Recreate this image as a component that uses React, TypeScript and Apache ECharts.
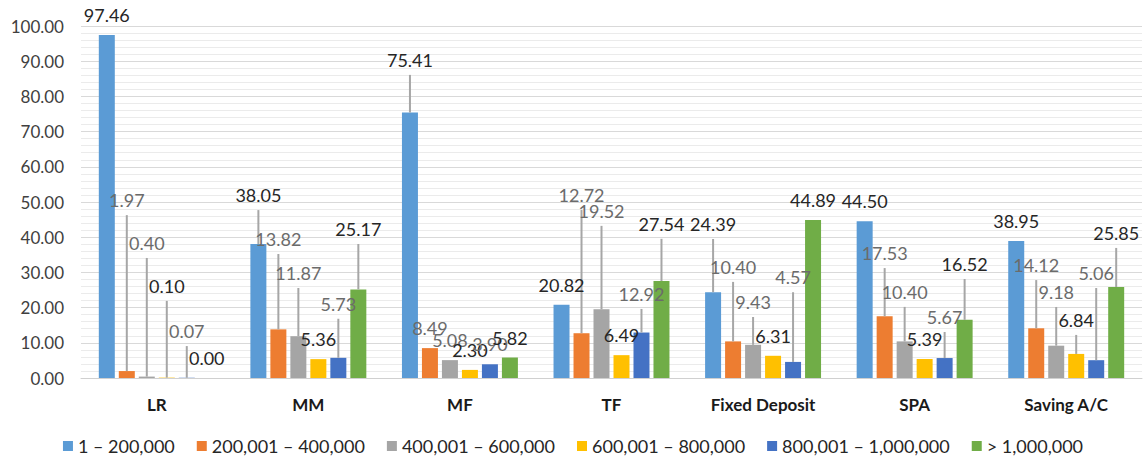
import React, { useEffect, useRef } from "react";
import * as echarts from "echarts";

const categories = ["LR", "MM", "MF", "TF", "Fixed Deposit", "SPA", "Saving A/C"];
const seriesNames = [
  "1 – 200,000",
  "200,001 – 400,000",
  "400,001 – 600,000",
  "600,001 – 800,000",
  "800,001 – 1,000,000",
  "> 1,000,000",
];
const seriesColors = ["#5B9BD5", "#ED7D31", "#A5A5A5", "#FFC000", "#4472C4", "#70AD47"];
const labelColors = ["#262626", "#6b6b6b", "#6b6b6b", "#262626", "#6b6b6b", "#262626"];

// Mean share per income band, one array per band, ordered as the categories
const band1 = [97.46, 38.05, 75.41, 20.82, 24.39, 44.5, 38.95];
const band2 = [1.97, 13.82, 8.49, 12.72, 10.4, 17.53, 14.12];
const band3 = [0.4, 11.87, 5.08, 19.52, 9.43, 10.4, 9.18];
const band4 = [0.1, 5.36, 2.3, 6.49, 6.31, 5.39, 6.84];
const band5 = [0.07, 5.73, 3.9, 12.92, 4.57, 5.67, 5.06];
const band6 = [0.0, 25.17, 5.82, 27.54, 44.89, 16.52, 25.85];

// Upper error amounts (0 = no error bar drawn)
const err1 = [0, 9.65, 10.7, 0, 15.1, 0, 0];
const err2 = [44.3, 21.4, 0, 35.0, 16.9, 13.7, 13.7];
const err3 = [33.7, 13.7, 0, 23.7, 7.9, 9.8, 11.0];
const err4 = [21.8, 0, 0, 0, 0, 0, 5.4];
const err5 = [9.0, 11.1, 0, 6.7, 19.8, 7.4, 20.5];
const err6 = [0, 12.9, 0, 12.0, 0, 11.6, 11.1];

const yTicks = { min: 0, max: 100, interval: 10 };

const values = [band1, band2, band3, band4, band5, band6];
const errors = [err1, err2, err3, err4, err5, err6];

const BAR_GAP = 0.25;
const CAT_GAP = 0.235;
const FONT = "Lato";

function barX(api: any, cat: number, s: number, val: number) {
  const base = api.coord([cat, val]);
  const band = api.size([1, 0])[0];
  const n = values.length;
  const bw = (band * (1 - CAT_GAP)) / (n + (n - 1) * BAR_GAP);
  return { x: base[0] + (s - (n - 1) / 2) * bw * (1 + BAR_GAP), y: base[1] };
}

export default function App() {
  const ref = useRef<HTMLDivElement>(null);

  useEffect(() => {
    if (!ref.current) return;
    const chart = echarts.init(ref.current, undefined, { renderer: "svg" });

    const points: number[][] = [];
    values.forEach((arr, s) =>
      arr.forEach((v, c) => points.push([c, s, v, errors[s][c]]))
    );

    const barSeries = values.map((arr, s) => ({
      name: seriesNames[s],
      type: "bar",
      data: arr,
      itemStyle: { color: seriesColors[s] },
      barGap: `${BAR_GAP * 100}%`,
      barCategoryGap: `${CAT_GAP * 100}%`,
      z: 2,
    }));

    const errorSeries = {
      type: "custom",
      name: "errors",
      data: points,
      encode: { x: 0, y: 2 },
      z: 3,
      silent: true,
      renderItem: (_p: any, api: any) => {
        const cat = api.value(0);
        const s = api.value(1);
        const v = api.value(2);
        const e = api.value(3);
        if (!(e > 0)) return { type: "group", children: [] };
        const p = barX(api, cat, s, v);
        const top = api.coord([cat, v + e])[1];
        return {
          type: "line",
          shape: { x1: p.x, y1: p.y, x2: p.x, y2: top },
          style: { stroke: "#a6a6a6", lineWidth: 2 },
        };
      },
    };

    const labelSeries = {
      type: "custom",
      name: "labels",
      data: points,
      encode: { x: 0, y: 2 },
      z: 4,
      silent: true,
      renderItem: (_p: any, api: any) => {
        const cat = api.value(0);
        const s = api.value(1);
        const v = api.value(2);
        const e = api.value(3);
        const p = barX(api, cat, s, v);
        const top = api.coord([cat, v + e])[1];
        return {
          type: "text",
          x: p.x,
          y: top - (e > 0 ? 15 : 20),
          style: {
            text: v.toFixed(2),
            fill: labelColors[s],
            fontSize: 18,
            fontFamily: FONT,
            textAlign: "center",
            textVerticalAlign: "middle",
          },
        };
      },
    };

    chart.setOption({
      animation: false,
      backgroundColor: "#ffffff",
      grid: { left: 81, right: 4, top: 26, bottom: 81, containLabel: false },
      legend: {
        data: seriesNames,
        top: 437,
        left: "center",
        padding: 0,
        icon: "rect",
        itemWidth: 10,
        itemHeight: 10,
        itemGap: 22,
        textStyle: { fontFamily: FONT, fontSize: 18, color: "#262626" },
      },
      xAxis: {
        type: "category",
        data: categories,
        axisTick: { show: false },
        axisLine: { lineStyle: { color: "#d0d0d0", width: 1 } },
        axisLabel: {
          fontFamily: FONT,
          fontWeight: "bold",
          fontSize: 17,
          color: "#1a1a1a",
          margin: 18,
        },
      },
      yAxis: {
        type: "value",
        min: yTicks.min,
        max: yTicks.max,
        interval: yTicks.interval,
        axisLine: { show: false },
        axisTick: { show: false },
        axisLabel: {
          fontFamily: FONT,
          fontSize: 17,
          color: "#404040",
          margin: 17,
          formatter: (v: number) => v.toFixed(2),
        },
        splitLine: { lineStyle: { color: "#d9d9d9", width: 1 } },
        minorTick: { show: false, splitNumber: 5 },
        minorSplitLine: { show: true, lineStyle: { color: "#ebebeb", width: 1 } },
      },
      series: [...barSeries, errorSeries, labelSeries],
    });

    return () => chart.dispose();
  }, []);

  return (
    <div
      ref={ref}
      style={{ position: "absolute", left: 0, top: 0, width: 1146, height: 459, background: "#fff" }}
    />
  );
}
